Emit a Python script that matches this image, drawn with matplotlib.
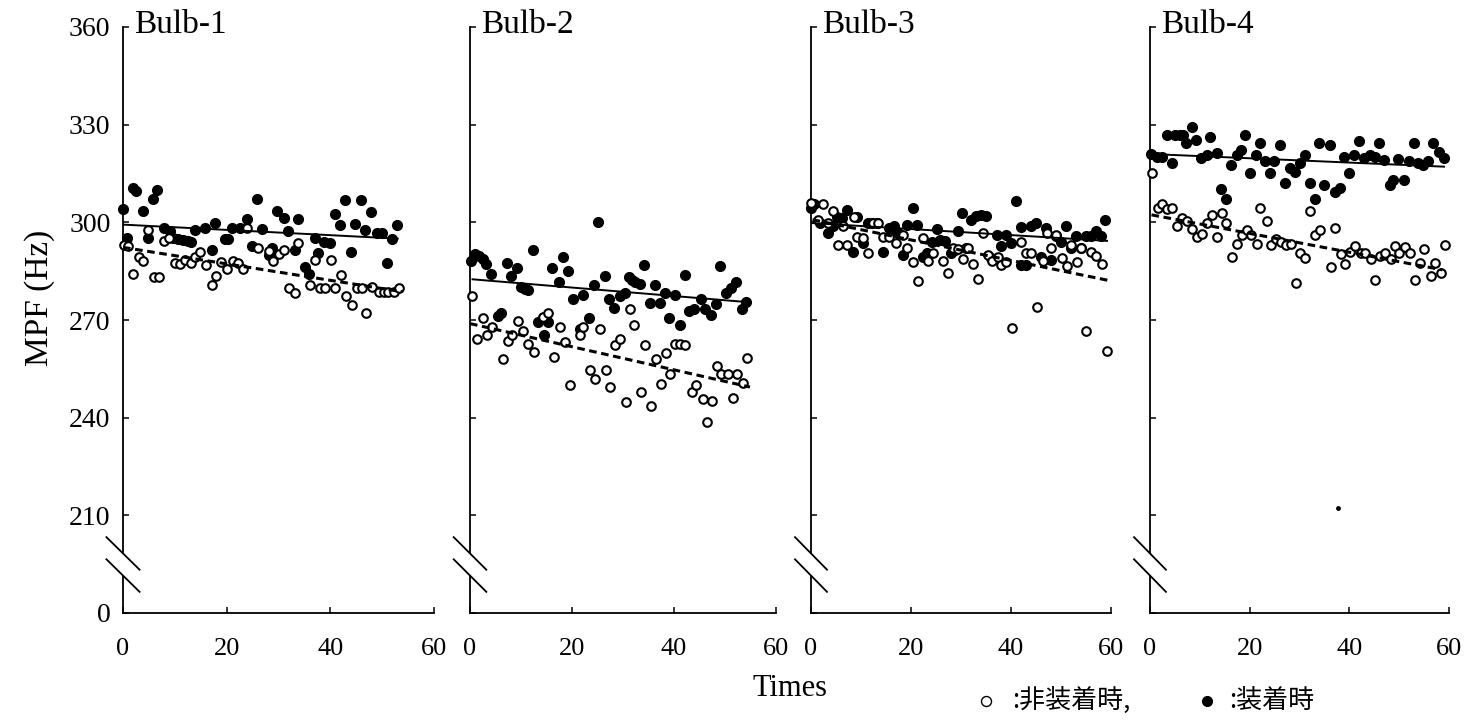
import matplotlib
matplotlib.use("Agg")
import matplotlib.pyplot as plt
from matplotlib.lines import Line2D

plt.rcParams["font.family"] = "Liberation Serif"

# ---- data (Times, MPF in Hz) ----
titles = ["Bulb-1", "Bulb-2", "Bulb-3", "Bulb-4"]

# Bulb-1
b1_on_t = [0, 0.8, 1.9, 2.6, 3.8, 4.9, 5.7, 6.6, 7.9, 9.1, 9.7, 10.7, 11.6, 12.6, 13.1, 13.9, 15.8, 17.1,
           17.8, 19.7, 20.3, 21.0, 22.6, 23.9, 24.8, 25.8, 26.9, 28.1, 28.7, 29.8, 31.0, 31.9, 33.2, 33.8,
           35.1, 35.8, 37.1, 37.7, 38.7, 40.0, 40.9, 41.9, 42.9, 43.9, 44.8, 45.9, 46.7, 47.8, 49.0, 49.9,
           50.9, 51.9, 52.8]
b1_on_mpf = [304.2, 295.2, 310.4, 309.6, 303.4, 295.2, 307.3, 309.9, 298.2, 297.4, 295.2, 295.0, 294.6, 294.3,
             294.1, 297.7, 298.4, 291.5, 299.8, 295.0, 295.0, 298.4, 298.4, 301.1, 292.6, 307.3, 298.0, 290.0,
             292.1, 303.4, 301.3, 297.4, 291.5, 301.1, 286.4, 284.0, 295.2, 290.5, 294.1, 293.6, 302.6, 299.1,
             307.0, 291.0, 299.5, 307.0, 297.7, 303.2, 296.7, 296.7, 287.4, 295.0, 299.1]
b1_off_t = [0.2, 1.0, 2.0, 3.0, 3.9, 4.9, 6.0, 7.0, 7.9, 8.8, 10.0, 11.0, 12.0, 13.1, 13.9, 14.9, 16.0, 17.1,
            18.0, 19.0, 20.1, 21.2, 22.1, 23.1, 23.9, 26.1, 28.1, 29.0, 30.0, 31.0, 32.1, 33.2, 33.8, 36.0,
            37.1, 38.0, 39.0, 40.1, 40.9, 42.0, 43.1, 44.1, 45.1, 46.1, 46.9, 48.0, 49.3, 50.3, 51.2, 52.2, 53.2]
b1_off_mpf = [292.9, 292.6, 284.0, 289.5, 288.2, 297.7, 283.3, 283.3, 294.3, 295.2, 287.4, 287.1, 288.5, 287.4,
              289.5, 290.8, 286.9, 280.7, 283.5, 287.7, 285.7, 288.2, 287.4, 285.7, 298.4, 292.1, 291.2, 288.2,
              290.2, 291.5, 279.9, 278.2, 293.6, 280.9, 288.5, 279.9, 279.9, 288.5, 279.9, 283.8, 277.5, 274.6,
              279.7, 279.7, 272.3, 280.2, 278.5, 278.5, 278.5, 278.7, 279.7]

# Bulb-2
b2_on_t = [0.1, 1.0, 1.8, 2.5, 3.1, 4.2, 5.4, 6.1, 7.2, 8.1, 9.2, 10.0, 10.7, 11.4, 12.4, 13.3, 14.4, 14.5,
           15.3, 16.1, 17.4, 18.3, 19.2, 20.2, 21.5, 22.2, 23.3, 24.4, 25.0, 26.4, 27.2, 28.3, 29.4, 30.3,
           31.1, 31.8, 32.4, 33.3, 34.1, 35.2, 36.3, 37.2, 38.3, 39.1, 40.2, 41.2, 42.1, 43.0, 43.9, 45.2,
           46.1, 47.2, 48.2, 49.0, 50.2, 51.1, 52.1, 53.3, 54.1]
b2_on_mpf = [288.0, 290.2, 289.8, 288.8, 287.1, 284.0, 271.3, 272.0, 287.4, 283.6, 285.9, 280.2, 279.5, 279.2,
             291.6, 269.4, 270.7, 265.5, 269.4, 285.9, 281.6, 289.2, 285.1, 276.4, 267.2, 277.7, 270.5, 280.6,
             300.1, 283.6, 276.4, 273.8, 277.5, 278.2, 283.3, 282.3, 281.6, 281.0, 286.9, 275.1, 280.8, 275.1,
             278.2, 270.7, 277.7, 268.4, 283.8, 272.7, 273.3, 276.4, 273.5, 271.5, 274.8, 286.7, 278.2, 279.7,
             281.6, 273.5, 275.4]
b2_off_t = [0.3, 1.4, 2.5, 3.3, 4.4, 6.4, 7.5, 8.3, 9.4, 10.3, 11.4, 12.6, 14.4, 15.3, 16.5, 17.6, 18.6, 19.6,
            21.5, 22.2, 23.5, 24.6, 25.5, 26.6, 27.5, 28.5, 29.5, 30.5, 31.4, 32.2, 33.5, 34.4, 35.5, 36.5,
            37.4, 38.5, 39.3, 40.2, 41.2, 42.2, 43.5, 44.3, 45.6, 46.4, 47.4, 48.4, 49.3, 50.5, 51.5, 52.4,
            53.5, 54.4]
b2_off_mpf = [277.5, 264.3, 270.7, 265.3, 267.9, 258.1, 263.5, 265.5, 269.6, 266.6, 262.7, 260.2, 271.0, 272.3,
              258.6, 267.9, 263.3, 249.9, 265.3, 267.9, 254.5, 251.9, 267.2, 254.5, 249.4, 262.2, 264.3, 244.7,
              273.3, 268.4, 247.8, 262.2, 243.7, 257.9, 250.4, 260.0, 253.5, 262.7, 262.7, 262.2, 247.8, 250.1,
              245.6, 238.8, 245.2, 255.9, 253.5, 253.5, 246.0, 253.5, 250.7, 258.3]

# Bulb-3
b3_on_t = [0.0, 0.6, 1.7, 3.3, 4.4, 5.2, 6.1, 7.2, 8.4, 9.2, 10.3, 11.4, 12.1, 13.2, 14.4, 15.5, 16.5, 17.4,
           18.3, 19.2, 20.4, 21.2, 22.3, 23.2, 24.1, 25.2, 25.8, 26.8, 27.9, 28.8, 29.4, 30.1, 31.0, 32.0,
           33.0, 34.0, 35.0, 36.0, 37.2, 38.0, 39.0, 40.0, 41.0, 42.0, 42.0, 43.0, 44.0, 45.0, 46.0, 47.0,
           48.0, 49.0, 50.0, 51.0, 52.0, 53.0, 54.0, 55.0, 56.0, 57.0, 58.0, 58.8]
b3_on_mpf = [304.4, 305.5, 299.8, 296.7, 298.8, 301.5, 301.3, 303.9, 291.0, 301.5, 293.6, 299.8, 299.8, 299.8,
             291.0, 298.3, 298.8, 296.7, 290.0, 299.3, 304.4, 299.3, 289.5, 290.5, 294.1, 298.0, 294.6, 294.3,
             290.5, 291.6, 297.2, 302.9, 292.1, 300.8, 301.9, 302.4, 301.9, 289.0, 296.2, 292.6, 296.2, 293.6,
             306.5, 298.5, 287.0, 287.0, 298.8, 299.8, 289.5, 298.3, 288.5, 295.7, 294.1, 298.8, 292.1, 295.7,
             292.1, 295.7, 295.7, 297.2, 295.7, 300.8]
b3_off_t = [0.0, 1.4, 2.3, 3.3, 4.4, 5.3, 6.3, 7.2, 8.5, 9.2, 10.3, 11.4, 12.3, 13.3, 14.4, 15.6, 17.0, 18.3,
            19.2, 20.4, 21.3, 22.3, 23.4, 24.3, 26.4, 27.3, 28.3, 29.4, 30.3, 31.3, 32.4, 33.3, 34.3, 35.4,
            36.2, 37.3, 38.0, 39.0, 40.1, 42.0, 43.0, 44.0, 45.2, 46.3, 47.2, 48.0, 49.0, 50.1, 51.2, 52.0,
            53.2, 54.0, 55.0, 56.0, 57.0, 58.1, 59.2]
b3_off_mpf = [306.0, 300.8, 305.7, 299.8, 303.4, 292.9, 298.8, 292.9, 301.5, 295.4, 295.2, 290.5, 299.8, 299.8,
              295.4, 295.4, 293.6, 296.0, 292.1, 287.8, 282.0, 295.2, 288.2, 290.5, 288.2, 284.4, 292.1, 291.9,
              288.8, 292.1, 287.1, 282.6, 296.7, 290.0, 288.0, 289.5, 287.0, 287.8, 267.6, 294.1, 290.5, 290.5,
              274.1, 288.0, 296.7, 292.1, 296.0, 289.0, 286.7, 292.9, 287.8, 292.1, 266.5, 290.8, 289.8, 287.1,
              260.4]

# Bulb-4
b4_on_t = [0.3, 1.4, 2.5, 3.4, 4.4, 5.1, 6.1, 6.7, 7.2, 8.4, 9.2, 10.3, 11.4, 12.1, 13.4, 14.3, 15.2, 16.3,
           17.4, 18.3, 19.1, 20.1, 21.2, 22.1, 23.1, 24.1, 24.9, 26.1, 27.1, 28.1, 29.1, 30.1, 31.1, 32.1,
           33.2, 33.9, 34.9, 36.1, 37.1, 38.1, 38.9, 39.9, 40.9, 41.9, 42.9, 44.1, 45.1, 45.9, 46.9, 48.1,
           48.7, 49.7, 50.9, 51.9, 52.9, 53.7, 54.7, 55.7, 56.7, 57.9, 58.9]
b4_on_mpf = [321.0, 320.0, 320.0, 326.9, 318.2, 326.9, 326.9, 326.9, 324.3, 329.4, 325.3, 319.7, 320.7, 326.3,
             321.2, 310.2, 307.1, 317.6, 320.7, 322.2, 326.9, 315.3, 320.7, 324.5, 318.7, 315.3, 318.7, 323.8,
             312.0, 316.6, 315.6, 318.2, 320.7, 312.2, 307.1, 324.5, 311.5, 323.8, 309.4, 310.5, 320.0, 315.3,
             320.7, 325.1, 319.7, 320.7, 320.2, 324.5, 319.0, 311.5, 313.0, 319.4, 313.0, 318.7, 324.5, 318.2,
             317.6, 318.7, 324.5, 321.7, 319.7]
b4_off_t = [0.4, 1.6, 2.4, 3.4, 4.5, 5.4, 6.5, 7.4, 8.5, 9.4, 10.4, 11.4, 12.4, 13.5, 14.4, 15.2, 16.4, 17.4,
            18.4, 19.4, 20.3, 21.4, 22.1, 23.4, 24.3, 25.2, 26.3, 27.2, 28.3, 29.2, 30.1, 31.2, 32.1, 33.1,
            34.1, 36.3, 37.1, 38.3, 39.2, 40.1, 41.2, 42.3, 43.2, 44.3, 45.1, 46.1, 47.1, 48.3, 49.1, 49.9,
            51.1, 52.1, 53.2, 54.1, 54.9, 56.3, 57.1, 58.3, 59.1]
b4_off_mpf = [315.1, 304.3, 305.7, 304.0, 304.3, 298.9, 301.3, 300.5, 297.9, 295.6, 296.5, 299.9, 302.3, 295.6,
              303.0, 299.9, 289.3, 293.4, 296.1, 297.5, 296.1, 293.4, 304.3, 300.5, 293.1, 294.8, 294.1, 293.1,
              293.4, 281.3, 290.7, 289.0, 303.6, 296.1, 297.5, 286.4, 298.2, 290.3, 287.2, 291.0, 292.8, 290.7,
              290.7, 288.7, 282.3, 289.7, 290.7, 288.7, 292.6, 290.7, 292.4, 290.5, 282.3, 287.6, 291.8, 283.4,
              287.4, 284.4, 293.1]
b4_stray_t = [37.8]
b4_stray_mpf = [212.2]

# regression lines (start / end)
solid_t = [(0, 53.0), (0.5, 53.6), (0, 59.2), (0, 59.0)]
solid_mpf = [(299.3, 295.0), (282.5, 275.6), (299.8, 294.3), (321.0, 317.1)]
dashed_t = [(0, 53.8), (0, 54.9), (0.3, 60.0), (0.3, 58.7)]
dashed_mpf = [(292.3, 278.7), (268.9, 249.4), (300.8, 282.0), (302.3, 285.4)]

on_t = [b1_on_t, b2_on_t, b3_on_t, b4_on_t]
on_mpf = [b1_on_mpf, b2_on_mpf, b3_on_mpf, b4_on_mpf]
off_t = [b1_off_t, b2_off_t, b3_off_t, b4_off_t]
off_mpf = [b1_off_mpf, b2_off_mpf, b3_off_mpf, b4_off_mpf]

y_ticks = [180, 210, 240, 270, 300, 330, 360]
y_ticklabels = ["0", "210", "240", "270", "300", "330", "360"]
x_ticks = [0, 20, 40, 60]

# ---- figure ----
W, H = 1470, 728
fig = plt.figure(figsize=(W / 100, H / 100), dpi=100)

lefts = [123, 470, 811, 1150]
rights = [434, 776, 1111, 1449]
y_bottom, y_top = 613, 27

for i in range(4):
    ax = fig.add_axes([lefts[i] / W, (H - y_bottom) / H,
                       (rights[i] - lefts[i]) / W, (y_bottom - y_top) / H])
    ax.set_xlim(0, 60)
    ax.set_ylim(180, 360)
    for s in ["top", "right"]:
        ax.spines[s].set_visible(False)
    ax.spines["left"].set_bounds(198.3, 360)
    ax.spines["left"].set_linewidth(1.3)
    ax.spines["bottom"].set_linewidth(1.3)
    # lower piece of the broken y axis + break marks
    ax.plot([0, 0], [180, 191.5], color="black", lw=1.3, clip_on=False)
    for yc in [198.3, 191.5]:
        ax.plot([-3.2, 3.2], [yc + 5.0, yc - 5.0], color="black", lw=1.3, clip_on=False)

    ax.set_yticks(y_ticks)
    ax.set_xticks(x_ticks)
    ax.set_xticklabels([str(x) for x in x_ticks])
    ax.tick_params(direction="in", length=4, width=1.1)
    ax.tick_params(axis="x", pad=18, labelsize=19)
    ax.tick_params(axis="y", pad=9, labelsize=20)
    if i == 0:
        ax.set_yticklabels(y_ticklabels)
    else:
        ax.set_yticklabels([])

    ax.plot(on_t[i], on_mpf[i], "o", color="black", ms=7, clip_on=False, zorder=3)
    ax.plot(off_t[i], off_mpf[i], "o", mfc="white", mec="black", ms=6.2, mew=1.5,
            clip_on=False, zorder=3)
    ax.plot(solid_t[i], solid_mpf[i], "-", color="black", lw=1.4, zorder=4)
    ax.plot(dashed_t[i], dashed_mpf[i], color="black", lw=2.2, ls=(0, (2.5, 1.5)), zorder=4)
    if i == 3:
        ax.plot(b4_stray_t, b4_stray_mpf, "o", color="black", ms=2.5)

    ax.text(0.037, 0.99, titles[i], transform=ax.transAxes, fontsize=24, va="baseline", ha="left")

fig.text(40 / W, 1 - 298 / H, "MPF (Hz)", rotation=90, ha="center", va="center", fontsize=24)
fig.text(790 / W, 1 - 688 / H, "Times", ha="center", va="center", fontsize=22)

# legend line at the bottom
cjk = ["Noto Sans CJK JP", "DejaVu Sans"]
fig.add_artist(Line2D([986 / W], [1 - 701 / H], marker="o", mfc="white", mec="black", ms=7.2, mew=1.0,
                      transform=fig.transFigure))
fig.text(1012 / W, 1 - 700 / H, ":非装着時,", family=cjk, fontsize=18.7, ha="left", va="center")
fig.add_artist(Line2D([1207 / W], [1 - 701 / H], marker="o", color="black", ms=7,
                      transform=fig.transFigure))
fig.text(1229 / W, 1 - 700 / H, ":装着時", family=cjk, fontsize=18.7, ha="left", va="center")

fig.savefig("out.png", dpi=100)
